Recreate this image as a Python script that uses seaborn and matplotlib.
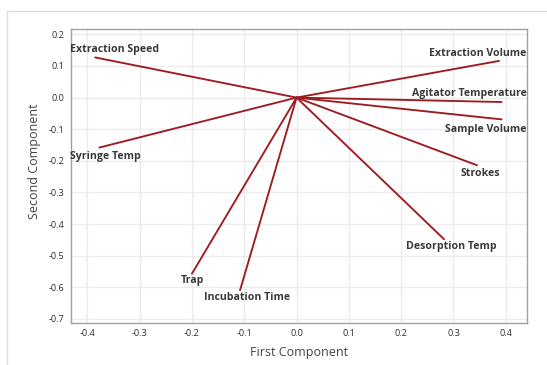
import matplotlib
matplotlib.use("Agg")
import matplotlib.pyplot as plt
from matplotlib.lines import Line2D
import numpy as np
import pandas as pd
import seaborn as sns

# Loadings of each variable on the first two principal components
variables = ["Extraction Speed", "Extraction Volume", "Agitator Temperature",
             "Sample Volume", "Syringe Temp", "Strokes", "Desorption Temp",
             "Trap", "Incubation Time"]
pc1 = [-0.385, 0.387, 0.392, 0.392, -0.377, 0.345, 0.282, -0.200, -0.108]
pc2 = [0.127, 0.116, -0.014, -0.069, -0.158, -0.214, -0.448, -0.557, -0.609]

x_ticks = [-0.4, -0.3, -0.2, -0.1, 0.0, 0.1, 0.2, 0.3, 0.4]
y_ticks = [0.2, 0.1, 0.0, -0.1, -0.2, -0.3, -0.4, -0.5, -0.6, -0.7]

# label offsets from each vector tip, in pixels (dx, dy)
label_offsets = [(0, 8), (0, 7), (0, 9), (0, -10), (0, -9),
                 (3, -8), (7, -7), (0, -7), (7, -7)]

# long-form table: one segment per variable, from the origin to its loading
rows = []
for name, a, b in zip(variables, pc1, pc2):
    rows.append({"var": name, "order": 0, "pc1": 0.0, "pc2": 0.0})
    rows.append({"var": name, "order": 1, "pc1": a, "pc2": b})
df = pd.DataFrame(rows)

sns.set_theme(style="whitegrid")
plt.rcParams["font.family"] = ["Open Sans", "DejaVu Sans"]

W, H = 547, 365
fig = plt.figure(figsize=(W / 100, H / 100), dpi=100)
fig.patch.set_facecolor("white")
ax = fig.add_axes([70.8 / W, 1 - 322.7 / H, (526.7 - 70.8) / W, (322.7 - 29.3) / H])

line_color = "#9E1B22"
sns.lineplot(data=df, x="pc1", y="pc2", units="var", estimator=None, sort=False,
             color=line_color, linewidth=1.35, ax=ax, legend=False)

ax.set_xlim(-0.4316, 0.440)
ax.set_ylim(-0.712, 0.216)
ax.set_xticks(x_ticks)
ax.set_yticks(y_ticks)
ax.set_xticklabels([f"{v:.1f}" for v in x_ticks])
ax.set_yticklabels([f"{v:.1f}" for v in y_ticks])

ax.set_facecolor("white")
ax.grid(True, color="#ebebeb", linewidth=1.0)
for s in ax.spines.values():
    s.set_color("#a0a0a0")
    s.set_linewidth(1.0)
ax.tick_params(axis="both", which="major", length=3, width=0.8, color="#a0a0a0",
               labelsize=6.6, labelcolor="#2e2e2e", pad=1.5, direction="out")

ax.set_xlabel("First Component", fontsize=9, color="#444444", labelpad=6)
ax.set_ylabel("Second Component", fontsize=9, color="#444444", labelpad=6)
ax.yaxis.set_label_coords(-0.066, 0.55)

# variable names next to the vector tips
texts = []
for name, a, b, (dx, dy) in zip(variables, pc1, pc2, label_offsets):
    t = ax.annotate(name, xy=(a, b), xytext=(dx, dy), textcoords="offset pixels",
                    ha="center", va="center", fontsize=7.6, fontweight="bold",
                    color="#383838", annotation_clip=False)
    texts.append(t)

# keep labels inside the plotting area horizontally
fig.canvas.draw()
renderer = fig.canvas.get_renderer()
abox = ax.get_window_extent(renderer)
for t, (dx, dy) in zip(texts, label_offsets):
    bb = t.get_window_extent(renderer)
    shift = 0
    if bb.x1 > abox.x1:
        shift = abox.x1 - bb.x1
    elif bb.x0 < abox.x0 - 1:
        shift = abox.x0 - 1 - bb.x0
    if shift:
        t.set_position((dx + shift, dy))

# light frame around the chart panel
frame_c = "#dcdcdc"
fig.add_artist(Line2D([7.3 / W, 1.0], [1 - 11 / H, 1 - 11 / H],
                      transform=fig.transFigure, color=frame_c, linewidth=1.0))
fig.add_artist(Line2D([7.3 / W, 7.3 / W], [0.0, 1 - 11 / H],
                      transform=fig.transFigure, color=frame_c, linewidth=1.0))

fig.savefig("out.png", dpi=100, facecolor="white")
